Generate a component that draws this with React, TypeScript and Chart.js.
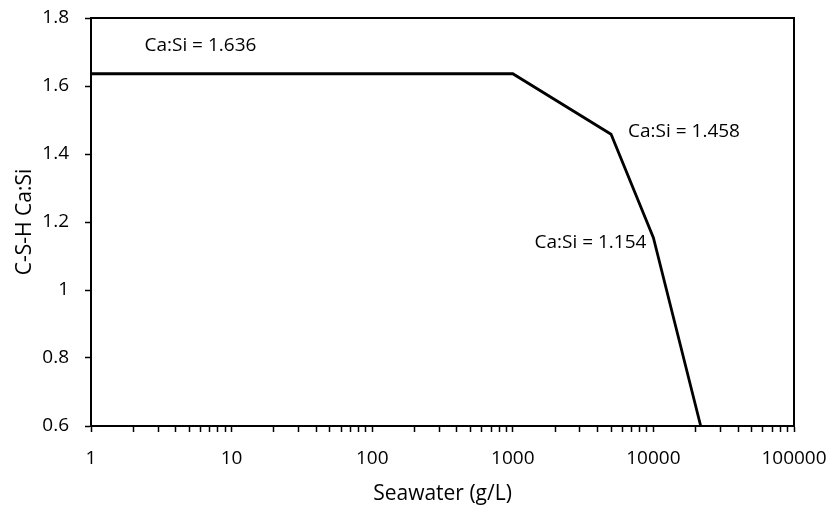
import React, { useEffect, useRef } from "react";
import { Chart, registerables } from "chart.js";

Chart.register(...registerables);

const seawaterX = [1, 1000, 5000, 10000, 21700];
const caSiY = [1.636, 1.636, 1.458, 1.154, 0.6];
const xMajorTicks = [1, 10, 100, 1000, 10000, 100000];
const yTicks = [0.6, 0.8, 1, 1.2, 1.4, 1.6, 1.8];
const noteTexts = ["Ca:Si = 1.636", "Ca:Si = 1.458", "Ca:Si = 1.154"];
const noteX = [6, 5000, 10000];
const noteY = [1.718, 1.458, 1.154];

const FONT = "'Open Sans', sans-serif";

export default function App() {
  const ref = useRef<HTMLCanvasElement | null>(null);
  useEffect(() => {
    document.body.style.margin = "0";
    const canvas = ref.current!;
    const allTicks: number[] = [];
    for (let k = 0; k < xMajorTicks.length - 1; k++) {
      for (let m = 1; m < 10; m++) allTicks.push(xMajorTicks[k] * m);
    }
    allTicks.push(xMajorTicks[xMajorTicks.length - 1]);

    const framePlugin = {
      id: "frame",
      afterDraw(chart: any) {
        const { ctx, chartArea: a, scales } = chart;
        ctx.save();
        ctx.strokeStyle = "#000";
        ctx.lineWidth = 2;
        ctx.strokeRect(a.left, a.top, a.right - a.left, a.bottom - a.top);
        ctx.fillStyle = "#000";
        ctx.font = `19px ${FONT}`;
        ctx.textBaseline = "middle";
        const offs = [
          [0, 0, "center"],
          [17, -3, "left"],
          [-7, 5, "right"],
        ];
        noteTexts.forEach((t, i) => {
          const px = scales.x.getPixelForValue(noteX[i]);
          const py = scales.y.getPixelForValue(noteY[i]);
          ctx.textAlign = offs[i][2] as CanvasTextAlign;
          ctx.fillText(t, px + (offs[i][0] as number), py + (offs[i][1] as number));
        });
        ctx.restore();
      },
    };

    const zeroPad = (s: any) => {
      s.paddingTop = 0;
      s.paddingBottom = 0;
      s.paddingLeft = 0;
      s.paddingRight = 0;
    };

    const chart = new Chart(canvas, {
      type: "scatter",
      data: {
        datasets: [
          {
            data: seawaterX.map((x, i) => ({ x, y: caSiY[i] })),
            showLine: true,
            borderColor: "#000",
            borderWidth: 2.8,
            pointRadius: 0,
            fill: false,
          },
        ],
      },
      options: {
        animation: false,
        responsive: false,
        layout: { padding: { top: 18, right: 38, left: 0, bottom: 0 } },
        plugins: { legend: { display: false }, tooltip: { enabled: false } },
        scales: {
          x: {
            type: "logarithmic",
            min: 1,
            max: 100000,
            afterBuildTicks: (s: any) => {
              s.ticks = allTicks.map((v) => ({ value: v, major: xMajorTicks.includes(v) }));
            },
            afterFit: (s: any) => {
              s.height = 83;
              zeroPad(s);
            },
            ticks: {
              autoSkip: false,
              maxRotation: 0,
              color: "#000",
              padding: 15,
              font: { family: FONT, size: 19 },
              callback: (v: any) => (xMajorTicks.includes(Number(v)) ? String(v) : ""),
            },
            grid: { drawOnChartArea: false, tickLength: 6, color: "#000", tickWidth: 1.5 },
            border: { color: "#000", width: 2 },
            title: {
              display: true,
              text: "Seawater (g/L)",
              color: "#000",
              font: { family: FONT, size: 21 },
              padding: { top: 0, bottom: 2 },
            },
          },
          y: {
            min: 0.6,
            max: 1.8,
            afterBuildTicks: (s: any) => {
              s.ticks = yTicks.map((v) => ({ value: v }));
            },
            afterFit: (s: any) => {
              s.width = 91;
              zeroPad(s);
            },
            ticks: {
              color: "#000",
              padding: 16,
              font: { family: FONT, size: 19 },
              callback: (v: any) => String(Math.round(Number(v) * 10) / 10),
            },
            grid: { drawOnChartArea: false, tickLength: 6, color: "#000", tickWidth: 1.5 },
            border: { color: "#000", width: 2 },
            title: {
              display: true,
              text: "C-S-H Ca:Si",
              color: "#000",
              font: { family: FONT, size: 21 },
              padding: { top: 12, bottom: 0 },
            },
          },
        },
      },
      plugins: [framePlugin],
    });
    return () => chart.destroy();
  }, []);
  return (
    <div style={{ position: "absolute", left: 0, top: 0, width: 832, height: 509, background: "#fff" }}>
      <canvas ref={ref} width={832} height={509} style={{ width: 832, height: 509 }} />
    </div>
  );
}
